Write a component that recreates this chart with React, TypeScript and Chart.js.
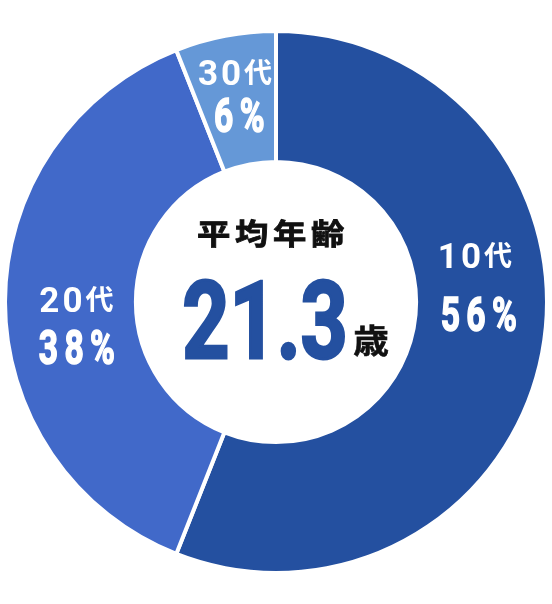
import { useEffect, useRef } from 'react';
import { Chart, registerables } from 'chart.js';

Chart.register(...registerables);

// data
const ageGroups = ['10代', '20代', '30代'];
const shares = [56, 38, 6];
const centerTitle = '平均年齢';
const averageAge = 21.3;
const ageUnit = '歳';

const sliceColors = ['#2450a0', '#4169c9', '#6598d7'];

// label nudges from each slice's centre point: [titleDx, titleBaseDy, pctDx, pctBaseDy]
const labelNudges = [
  [-3, -73, 4, -10],
  [6, 10, 9.5, 62],
  [-2.5, -15, 5, 32],
];

const CJK = '"Noto Sans CJK JP", "Noto Sans CJK SC", sans-serif';

type Run = { text: string; font: string; sx?: number; ls?: number; dy?: number; stroke?: number };

function runWidth(ctx: CanvasRenderingContext2D, r: Run) {
  ctx.font = r.font;
  (ctx as any).letterSpacing = `${r.ls || 0}px`;
  return ctx.measureText(r.text).width * (r.sx ?? 1);
}

// draws a row of text runs centred on cx, sitting on a shared baseline
function drawRuns(ctx: CanvasRenderingContext2D, runs: Run[], cx: number, baseline: number, color: string) {
  ctx.save();
  const widths = runs.map((r) => runWidth(ctx, r));
  let x = cx - widths.reduce((a, b) => a + b, 0) / 2;
  ctx.fillStyle = color;
  ctx.strokeStyle = color;
  ctx.lineJoin = 'miter';
  ctx.textAlign = 'left';
  ctx.textBaseline = 'alphabetic';
  runs.forEach((r, i) => {
    ctx.save();
    ctx.font = r.font;
    (ctx as any).letterSpacing = `${r.ls || 0}px`;
    ctx.translate(x, baseline + (r.dy || 0));
    ctx.scale(r.sx ?? 1, 1);
    ctx.fillText(r.text, 0, 0);
    if (r.stroke) {
      ctx.lineWidth = r.stroke;
      ctx.strokeText(r.text, 0, 0);
    }
    ctx.restore();
    x += widths[i];
  });
  ctx.restore();
}

const textPlugin = {
  id: 'ageText',
  afterDatasetsDraw(chart: Chart) {
    const ctx = chart.ctx;
    const meta = chart.getDatasetMeta(0);
    const first: any = meta.data[0];
    if (!first) return;
    const cx = first.x;
    const cy = first.y;

    // centre block
    drawRuns(ctx, [{ text: centerTitle, font: `bold 29px ${CJK}`, sx: 1.15, ls: 4, stroke: 0.8 }], cx - 3, cy - 57, '#111');
    drawRuns(ctx, [{ text: averageAge.toFixed(1), font: 'bold 107px Roboto', sx: 0.77, stroke: 3 }], cx - 11, cy + 56, sliceColors[0]);
    drawRuns(ctx, [{ text: ageUnit, font: `bold 33px ${CJK}`, sx: 1.08, stroke: 0.6 }], cx + 95, cy + 51, '#111');

    // slice labels
    meta.data.forEach((arc: any, i: number) => {
      const p = arc.getCenterPoint();
      const [tdx, tdy, pdx, pdy] = labelNudges[i];
      const digits = ageGroups[i].replace('代', '');
      drawRuns(
        ctx,
        [
          { text: digits, font: 'bold 35px Roboto', ls: 3 },
          { text: '代', font: `bold 28px ${CJK}`, dy: -2 },
        ],
        p.x + tdx,
        p.y + tdy,
        '#fff'
      );
      drawRuns(ctx, [{ text: `${shares[i]}%`, font: 'bold 48px Roboto', sx: 0.7, ls: 9, stroke: 1.6 }], p.x + pdx, p.y + pdy, '#fff');
    });
  },
};

function AgeDoughnut() {
  const canvasRef = useRef<HTMLCanvasElement>(null);
  const chartRef = useRef<Chart | null>(null);

  useEffect(() => {
    if (!canvasRef.current) return;
    const ctx = canvasRef.current.getContext('2d');
    if (!ctx) return;
    if (chartRef.current) chartRef.current.destroy();

    chartRef.current = new Chart(ctx, {
      type: 'doughnut',
      data: {
        labels: ageGroups,
        datasets: [
          {
            data: shares,
            backgroundColor: sliceColors,
            borderColor: '#ffffff',
            borderWidth: 4,
            hoverOffset: 0,
          },
        ],
      },
      options: {
        responsive: false,
        animation: false,
        events: [],
        radius: 271,
        cutout: '51.7%',
        layout: { padding: 0 },
        plugins: {
          legend: { display: false },
          tooltip: { enabled: false },
        },
      },
      plugins: [textPlugin],
    });

    return () => {
      if (chartRef.current) {
        chartRef.current.destroy();
        chartRef.current = null;
      }
    };
  }, []);

  return <canvas ref={canvasRef} width={552} height={604} />;
}

export default function App() {
  return (
    <div style={{ position: 'absolute', left: 0, top: 0, width: 552, height: 604, background: '#fff' }}>
      <AgeDoughnut />
    </div>
  );
}
